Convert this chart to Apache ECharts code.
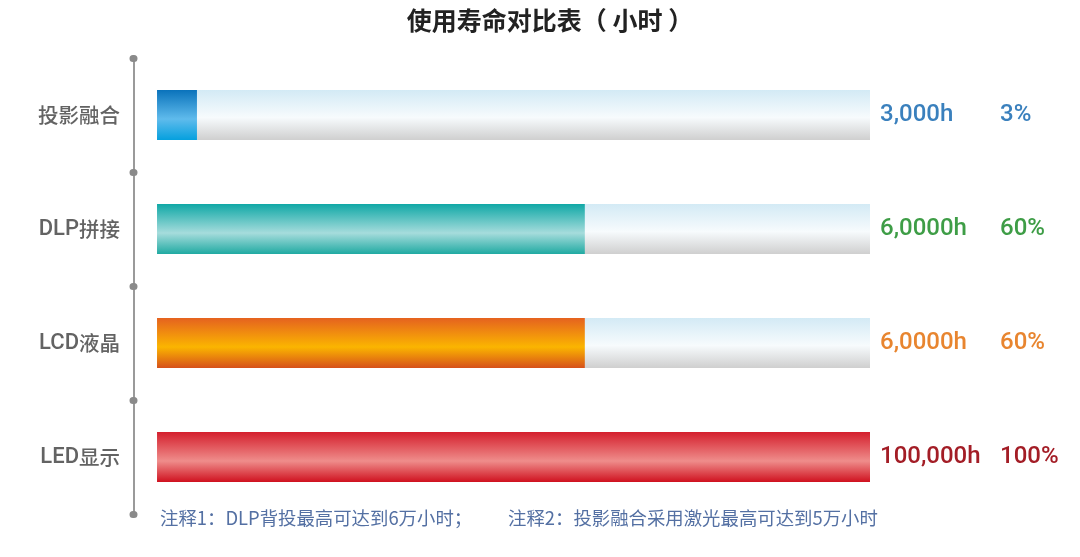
<!DOCTYPE html>
<html>
<head>
<meta charset="utf-8">
<script src="https://cdn.jsdelivr.net/npm/echarts@6/dist/echarts.min.js"></script>
<style>html,body{margin:0;padding:0;background:#fff;}#c{width:1080px;height:557px;}</style>
</head>
<body>
<div id="c"></div>
<script>
var categories = ['投影融合', 'DLP拼接', 'LCD液晶', 'LED显示'];
var percentValues = [5.6, 60, 60, 100];
var hourLabels = ['3,000h', '6,0000h', '6,0000h', '100,000h'];
var percentLabels = ['3%', '60%', '60%', '100%'];
var fullValues = [100, 100, 100, 100];
var notes = ['注释1：DLP背投最高可达到6万小时；', '注释2：投影融合采用激光最高可达到5万小时'];
var textColors = ['#3a80bd', '#3e9d46', '#e8852f', '#a31d26'];
var barGradients = [
  ['#0a72bb', '#5fbbec', '#05a0de'],
  ['#10a8a6', '#a6dcdc', '#20aaa2'],
  ['#e5621f', '#fbb500', '#d6501a'],
  ['#d41f2d', '#ef8d8b', '#cf111f']
];

function grad(c) {
  return new echarts.graphic.LinearGradient(0, 0, 0, 1, [
    {offset: 0, color: c[0]},
    {offset: 0.58, color: c[1]},
    {offset: 1, color: c[2]}
  ]);
}
var bgGrad = new echarts.graphic.LinearGradient(0, 0, 0, 1, [
  {offset: 0, color: '#d3eaf5'},
  {offset: 0.55, color: '#f7fbfd'},
  {offset: 1, color: '#cfcfcf'}
]);

var chart = echarts.init(document.getElementById('c'), null, {renderer: 'canvas'});
chart.setOption({
  animation: false,
  backgroundColor: '#fff',
  title: [{
    text: '使用寿命对比表（ 小时 ）',
    left: 550, top: 8, textAlign: 'center', padding: 0,
    textStyle: {fontSize: 25, fontWeight: 'bold', color: '#222', fontFamily: 'Noto Sans CJK SC'}
  }, {
    text: notes[0],
    left: 160, top: 509, padding: 0,
    textStyle: {fontSize: 18.4, fontWeight: 'normal', color: '#5470a3', fontFamily: 'Noto Sans CJK SC'}
  }, {
    text: notes[1],
    left: 508, top: 509, padding: 0,
    textStyle: {fontSize: 18.4, fontWeight: 'normal', color: '#5470a3', fontFamily: 'Noto Sans CJK SC'}
  }],
  grid: {left: 134, right: 210, top: 58, height: 456},
  xAxis: {type: 'value', min: -3.23, max: 100, show: false},
  yAxis: {
    type: 'category', data: categories, inverse: true,
    axisLine: {show: true, onZero: false, lineStyle: {color: '#9a9a9a', width: 2}},
    axisTick: {show: true, length: 1, lineStyle: {color: '#8a8a8a', width: 7, cap: 'round'}},
    axisLabel: {
      margin: 14,
      formatter: function (v) {
        var m = v.match(/^([A-Za-z]*)(.*)$/);
        return (m[1] ? '{a|' + m[1] + '}' : '') + '{b|' + m[2] + '}';
      },
      rich: {
        a: {fontSize: 22, color: '#636363', fontWeight: 500, fontFamily: 'Roboto, Liberation Sans'},
        b: {fontSize: 20.5, color: '#636363', fontWeight: 500, fontFamily: 'Noto Sans CJK SC'}
      }
    }
  },
  series: [{
    type: 'bar', name: 'bg', barWidth: 50, silent: true,
    data: fullValues.map(function (v, i) {
      return {
        value: v,
        itemStyle: {color: bgGrad},
        label: {
          show: true, position: 'right', distance: 10,
          formatter: '{h|' + hourLabels[i] + '}{p|' + percentLabels[i] + '}',
          rich: {
            h: {width: 120, fontSize: 24, color: textColors[i], fontFamily: 'Roboto, Liberation Sans', fontWeight: 500},
            p: {fontSize: 24, color: textColors[i], fontFamily: 'Roboto, Liberation Sans', fontWeight: 500}
          }
        }
      };
    })
  }, {
    type: 'bar', name: 'value', barWidth: 50, barGap: '-100%', z: 3,
    data: percentValues.map(function (v, i) {
      return {value: v, itemStyle: {color: grad(barGradients[i])}};
    })
  }]
});
</script>
</body>
</html>
